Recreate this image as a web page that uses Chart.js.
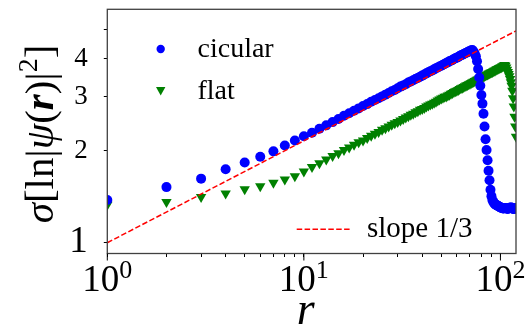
<!DOCTYPE html>
<html><head><meta charset="utf-8">
<script src="https://cdn.jsdelivr.net/npm/chart.js@4/dist/chart.umd.min.js"></script>
<style>html,body{margin:0;padding:0;background:#fff;}#wrap{width:526px;height:326px;position:relative}</style>
</head><body><div id="wrap"><canvas id="c" width="526" height="326" style="width:526px;height:326px"></canvas></div>
<script>
// ---- data ----
const radii = [1,2,3,4,5,6,7,8,9,10,11,12,13,14,15,16,17,18,19,20,21,22,23,24,25,26,27,28,29,30,
31,32,33,34,35,36,37,38,39,40,41,42,43,44,45,46,47,48,49,50,51,52,53,54,55,56,57,58,59,60,
61,62,63,64,65,66,67,68,69,70,71,72,73,74,75,76,77,78,79,80,81,82,83,84,85,86,87,88,89,90,
91,92,93,94,95,96,97,98,99,100,101,102,103,104,105,106,107,108,109,110,111,112,113,114,115,116,117,118,119,120,
121,122,123,124,125];
const circularValues = [1.38,1.52,1.62,1.74,1.83,1.91,1.99,2.08,2.16,2.23,
2.29,2.36,2.42,2.48,2.54,2.60,2.65,2.70,2.75,2.80,
2.84,2.89,2.93,2.97,3.01,3.05,3.09,3.13,3.16,3.20,
3.24,3.27,3.30,3.34,3.37,3.40,3.43,3.46,3.49,3.52,
3.55,3.58,3.61,3.64,3.66,3.69,3.72,3.74,3.77,3.79,
3.82,3.84,3.87,3.89,3.92,3.94,3.96,3.99,4.01,4.03,
4.05,4.08,4.10,4.12,4.14,4.16,4.18,4.20,4.22,4.24,
4.26,4.27,4.22,4.15,4.07,3.92,3.70,3.47,3.26,3.04,
2.85,2.64,2.40,2.18,2.01,1.86,1.72,1.60,1.49,1.42,
1.38,1.36,1.345,1.335,1.33,1.325,1.32,1.315,1.31,1.305,
1.30,1.30,1.295,1.295,1.30,1.30,1.295,1.295,1.29,1.295,
1.30,1.30,1.305,1.30,1.295,1.29,1.29,1.295,1.30,1.295,
1.29,1.29,1.295,1.29,1.29];
const flatValues = [1.33,1.36,1.41,1.45,1.495,1.53,1.57,1.61,1.65,1.71,
1.77,1.82,1.87,1.92,1.96,2.01,2.05,2.09,2.13,2.16,
2.20,2.24,2.27,2.30,2.34,2.37,2.40,2.43,2.46,2.48,
2.51,2.54,2.57,2.59,2.62,2.64,2.67,2.69,2.72,2.74,
2.76,2.79,2.81,2.83,2.85,2.87,2.89,2.92,2.94,2.96,
2.98,3.00,3.01,3.03,3.05,3.07,3.09,3.11,3.13,3.14,
3.16,3.18,3.20,3.21,3.23,3.25,3.27,3.28,3.30,3.31,
3.33,3.35,3.36,3.38,3.39,3.41,3.42,3.44,3.45,3.47,
3.48,3.50,3.51,3.53,3.54,3.55,3.57,3.58,3.60,3.61,
3.62,3.64,3.65,3.66,3.68,3.69,3.70,3.72,3.73,3.74,
3.75,3.77,3.78,3.80,3.81,3.79,3.74,3.68,3.62,3.56,
3.50,3.43,3.35,3.26,3.14,2.97,2.79,2.58,2.40,2.22,
2.06,1.91,1.77,1.64,1.52];
const slopeX = [1, 120];
const slopeY = [1, 4.93];
const xMajorTicks = [1, 10, 100];
const xMajorExponents = ['0', '1', '2'];
const xMinorTicks = [2,3,4,5,6,7,8,9,20,30,40,50,60,70,80,90];
const yTicks = [1, 2, 3, 4, 5];
const yTickLabels = ['1', '2', '3', '4', ''];
const seriesLabels = ['cicular', 'flat'];
const slopeLabel = 'slope 1/3';
const xTitle = 'r';
const yTitleParts = [
  {t:'σ', f:'italic'}, {t:'[', f:''}, {t:'ln', f:''}, {t:'|', f:''}, {t:'ψ', f:'italic'},
  {t:'(', f:''}, {t:'r', f:'italic bold'}, {t:')', f:''}, {t:'|', f:''}, {t:'2', f:'', sup:true}, {t:']', f:''}
];

const FONT = '"Liberation Serif", Tinos, "Times New Roman", "DejaVu Serif", serif';
const BLUE = '#0000ff', GREEN = '#008000', RED = '#ff0000';

const decor = {
  id: 'decor',
  afterDraw(chart) {
    const ctx = chart.ctx, a = chart.chartArea, xs = chart.scales.x;
    ctx.save();
    ctx.strokeStyle = '#404040'; ctx.lineWidth = 1.3;
    ctx.strokeRect(a.left, a.top, a.right - a.left, a.bottom - a.top);
    ctx.strokeStyle = '#000'; ctx.lineWidth = 1;
    xMajorTicks.forEach(v => {
      const px = xs.getPixelForValue(v);
      ctx.beginPath(); ctx.moveTo(px, a.bottom); ctx.lineTo(px, a.bottom + 7); ctx.stroke();
    });
    ctx.fillStyle = '#000'; ctx.textBaseline = 'alphabetic'; ctx.textAlign = 'left';
    xMajorTicks.forEach((v, i) => {
      const px = xs.getPixelForValue(v);
      ctx.font = '37px ' + FONT; const w1 = ctx.measureText('10').width;
      ctx.font = '26px ' + FONT; const w2 = ctx.measureText(xMajorExponents[i]).width;
      const left = px - (w1 + w2) / 2;
      ctx.font = '37px ' + FONT; ctx.fillText('10', left, a.bottom + 37.2);
      ctx.font = '26px ' + FONT; ctx.fillText(xMajorExponents[i], left + w1, a.bottom + 24.5);
    });
    ctx.font = 'italic 46px ' + FONT; ctx.textAlign = 'center';
    ctx.fillText(xTitle, (a.left + a.right) / 2 - 6, 324);
    ctx.save();
    ctx.translate(53, 134); ctx.rotate(-Math.PI / 2);
    const big = 41, small = 28;
    let W = 0;
    const widths = yTitleParts.map(p => {
      ctx.font = (p.f ? p.f + ' ' : '') + (p.sup ? small : big) + 'px ' + FONT;
      const w = ctx.measureText(p.t).width; W += w; return w;
    });
    let cx = -W / 2; ctx.textAlign = 'left';
    yTitleParts.forEach((p, i) => {
      ctx.font = (p.f ? p.f + ' ' : '') + (p.sup ? small : big) + 'px ' + FONT;
      ctx.fillText(p.t, cx, p.sup ? -16 : 0);
      cx += widths[i];
    });
    ctx.restore();
    ctx.fillStyle = BLUE;
    ctx.beginPath(); ctx.arc(160.7, 49, 4.2, 0, Math.PI * 2); ctx.fill();
    ctx.fillStyle = GREEN;
    ctx.beginPath(); ctx.moveTo(156, 87); ctx.lineTo(165.4, 87); ctx.lineTo(160.7, 95.5); ctx.closePath(); ctx.fill();
    ctx.fillStyle = '#000'; ctx.font = '28px ' + FONT; ctx.textAlign = 'left';
    ctx.fillText(seriesLabels[0], 197.5, 56.7);
    ctx.fillText(seriesLabels[1], 197.5, 99);
    ctx.strokeStyle = RED; ctx.lineWidth = 1.5; ctx.setLineDash([5.5, 2.4]);
    ctx.beginPath(); ctx.moveTo(296.7, 229.3); ctx.lineTo(351.7, 229.3); ctx.stroke();
    ctx.setLineDash([]);
    ctx.font = '29px ' + FONT;
    ctx.fillText(slopeLabel, 367, 236.7);
    ctx.restore();
  }
};

new Chart(document.getElementById('c'), {
  type: 'scatter',
  data: {
    datasets: [
      { label: slopeLabel, data: slopeX.map((x, i) => ({x, y: slopeY[i]})), showLine: true,
        borderColor: RED, borderWidth: 1.5, borderDash: [5.5, 2.4], pointRadius: 0, fill: false, clip: 0 },
      { label: seriesLabels[0], data: radii.map((r, i) => ({x: r, y: circularValues[i]})),
        pointStyle: 'circle', pointRadius: 5, backgroundColor: BLUE, borderWidth: 0, clip: 0 },
      { label: seriesLabels[1], data: radii.map((r, i) => ({x: r, y: flatValues[i]})),
        pointStyle: 'triangle', rotation: 180, pointRadius: 6, backgroundColor: GREEN, borderWidth: 0, clip: 0 }
    ]
  },
  options: {
    responsive: false, animation: false, devicePixelRatio: 1,
    layout: { padding: { top: 9.3, right: 10, left: 0, bottom: 0 } },
    plugins: { legend: { display: false }, tooltip: { enabled: false } },
    elements: { point: { hoverRadius: 0 } },
    scales: {
      x: {
        type: 'logarithmic', min: 1, max: 120, position: 'bottom',
        afterBuildTicks: s => { s.ticks = xMajorTicks.concat(xMinorTicks).sort((p, q) => p - q).map(v => ({value: v})); },
        afterFit: s => { s.height = 72.5; s.paddingLeft = 0; s.paddingRight = 0; },
        grid: { drawOnChartArea: false, drawTicks: true, tickLength: 3.5, tickColor: '#000', tickWidth: 1 },
        border: { display: false },
        ticks: { callback: () => '', autoSkip: false, maxRotation: 0, minRotation: 0 }
      },
      y: {
        type: 'logarithmic', min: 0.922, max: 5.8, position: 'left',
        afterBuildTicks: s => { s.ticks = yTicks.map(v => ({value: v})); },
        afterFit: s => { s.width = 107.3; s.paddingTop = 0; s.paddingBottom = 0; },
        grid: { drawOnChartArea: false, drawTicks: true, tickLength: 3.5, tickColor: '#000', tickWidth: 1 },
        border: { display: false },
        ticks: {
          autoSkip: false, padding: 16, color: '#000',
          callback: (v, i) => yTickLabels[i],
          font: c => ({ family: FONT, size: (c.tick && c.tick.value === 1) ? 37 : 27 })
        }
      }
    }
  },
  plugins: [decor]
});
</script>
</body></html>
